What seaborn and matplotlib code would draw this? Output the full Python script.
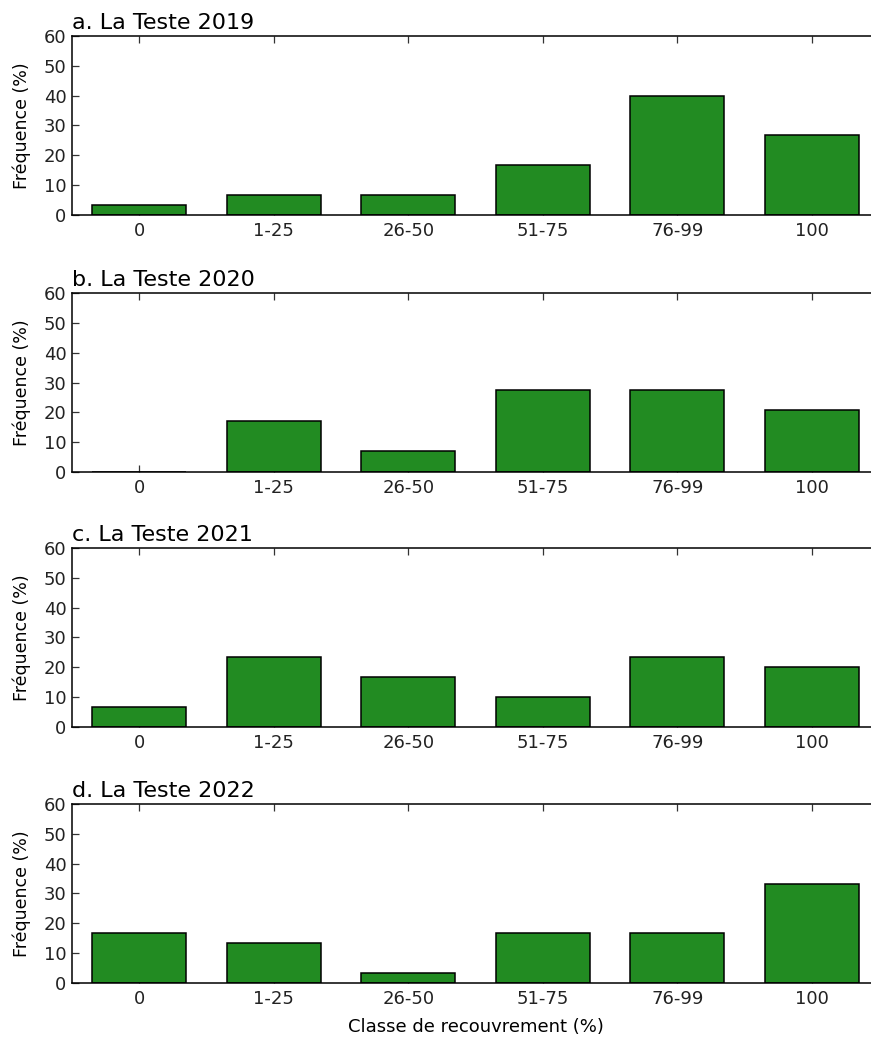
import pandas as pd
import seaborn as sns
import matplotlib.pyplot as plt

# Classes de recouvrement et fréquences (%) par année
classes = ['0', '1-25', '26-50', '51-75', '76-99', '100']
titres = ['a. La Teste 2019', 'b. La Teste 2020', 'c. La Teste 2021', 'd. La Teste 2022']
freq_2019 = [3.33, 6.67, 6.67, 16.67, 40.0, 26.67]
freq_2020 = [0.0, 17.24, 6.90, 27.59, 27.59, 20.69]
freq_2021 = [6.67, 23.33, 16.67, 10.0, 23.33, 20.0]
freq_2022 = [16.67, 13.33, 3.33, 16.67, 16.67, 33.33]

sns.set_style('ticks')
plt.rcParams['font.family'] = ['DejaVu Sans']
plt.rcParams['text.color'] = 'black'
plt.rcParams['axes.labelcolor'] = 'black'
plt.rcParams['xtick.direction'] = 'in'
plt.rcParams['ytick.direction'] = 'in'

fig = plt.figure(figsize=(8.71, 10.39), dpi=100)

# l'axe dépasse légèrement à droite (figure rognée dans l'original)
bottoms = [0.7931, 0.5457, 0.3003, 0.0539]
series = [freq_2019, freq_2020, freq_2021, freq_2022]

for i, (titre, valeurs) in enumerate(zip(titres, series)):
    ax = fig.add_axes([0.0827, bottoms[i], 0.9265, 0.1723])
    df = pd.DataFrame({'Classe': classes, 'Frequence': valeurs})
    sns.barplot(data=df, x='Classe', y='Frequence', color='#228B22', saturation=1,
                edgecolor='black', linewidth=1.1, width=0.7, ax=ax, zorder=1)
    ax.set_xlim(-0.5, 5.5)
    ax.set_ylim(0, 60)
    ax.set_yticks([0, 10, 20, 30, 40, 50, 60])
    ax.tick_params(axis='both', which='both', top=True, right=True, labelsize=13,
                   length=5, width=0.9, pad=5, colors='#333333', labelcolor='#222222')
    ax.tick_params(axis='y', pad=4)
    for s in ax.spines.values():
        s.set_linewidth(1.1)
        s.set_color('black')
    ax.set_ylabel('Fréquence (%)', fontsize=12.5, labelpad=9)
    ax.set_title(titre, loc='left', fontsize=16, pad=5)
    if i == 3:
        ax.set_xlabel('Classe de recouvrement (%)', fontsize=13, labelpad=7)
    else:
        ax.set_xlabel('')

fig.savefig('out.png', dpi=100)
